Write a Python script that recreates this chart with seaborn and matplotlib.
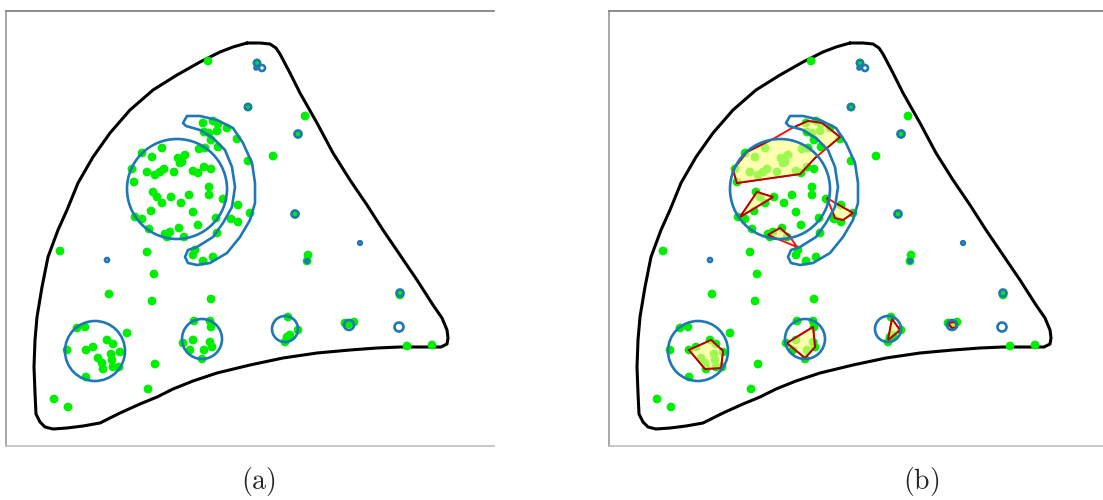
import numpy as np
import matplotlib
matplotlib.use("Agg")
import matplotlib.pyplot as plt
from matplotlib.patches import Circle, Polygon
from matplotlib.path import Path
import seaborn as sns
import pandas as pd

sns.set_style("white")
plt.rcParams["mathtext.fontset"] = "cm"

# ---- domain boundary (panel pixel coordinates, y downward) ----
outline_x = [247, 260, 270, 276, 280, 290, 300, 317, 333, 350, 367, 383, 400, 417, 433,
             442, 447, 448, 447, 441, 430, 400, 377, 350, 317, 283, 250, 217, 193, 173,
             157, 140, 120, 100, 83, 67, 53, 45, 40, 36, 35, 34, 35, 37, 42, 48, 58, 67,
             78, 93, 110, 130, 153, 177, 200, 220, 233, 247]
outline_y = [43, 43, 44, 48, 54, 73, 93, 123, 153, 180, 205, 230, 255, 280, 305,
             318, 330, 338, 344, 347, 347, 347, 348, 350, 353, 358, 365, 373, 381, 389,
             397, 404, 413, 423, 426, 428, 429, 427, 422, 414, 393, 367, 340, 317, 287,
             257, 230, 210, 183, 157, 133, 110, 90, 75, 62, 52, 47, 43]

# ---- crescent region ----
crescent_x = [187, 200, 217, 233, 243, 252, 255, 255, 250, 240, 227, 210, 197, 188, 185,
              188, 197, 213, 223, 232, 235, 232, 225, 213, 200, 186, 183, 187]
crescent_y = [116, 116, 120, 128, 143, 163, 183, 203, 220, 237, 253, 263, 265, 263, 257,
              250, 247, 237, 223, 207, 187, 167, 150, 138, 130, 126, 123, 116]

# ---- circular regions: centre x, centre y, radius ----
circle_x = [177, 95, 202, 285, 349, 399, 257, 256, 262, 248, 298, 295, 360, 307, 107, 400]
circle_y = [189, 351, 339, 329, 325, 327, 63, 68, 68, 107, 134, 214, 243, 261, 260, 293]
circle_r = [50, 30, 20, 13, 5, 4.5, 3, 1.5, 3, 3, 3.5, 3.5, 1.8, 1.8, 2, 3.5]

# ---- sample points ----
pts_x = [208, 257, 248, 305, 298, 273, 248, 295, 308, 307, 400, 349, 345, 354, 407, 432,
         203, 213, 218, 227, 204, 209, 217, 237, 211, 218, 199, 205,
         223, 238, 250, 238, 231, 216, 217, 195, 193, 203, 213,
         142, 152, 162, 178, 182, 185, 180, 132, 147, 155, 160, 164, 174, 193, 198, 204,
         211, 134, 153, 157, 162, 171, 181, 189, 209, 209, 151, 193, 135, 142, 149, 165,
         170, 179, 184, 198, 167,
         60, 147, 154, 109, 152, 211, 127, 155, 148, 54, 68,
         77, 85, 67, 86, 93, 107, 113, 120, 111, 98, 102, 112, 103, 113, 119, 86,
         194, 210, 211, 183, 193, 190, 204, 210, 212, 202,
         288, 298, 290, 287, 285]
pts_y = [61, 63, 107, 116, 134, 156, 161, 214, 255, 261, 295, 324, 323, 322, 346, 345,
         123, 121, 124, 128, 132, 133, 131, 139, 140, 147, 149, 148,
         199, 205, 213, 222, 219, 218, 233, 250, 255, 261, 257,
         153, 157, 148, 158, 162, 155, 163, 169, 172, 175, 172, 169, 172, 171, 173, 167,
         169, 182, 192, 197, 203, 197, 203, 195, 187, 195, 211, 212, 217, 219, 229, 234,
         232, 228, 237, 225, 237,
         251, 252, 274, 294, 301, 299, 333, 364, 389, 399, 407,
         328, 327, 350, 350, 347, 340, 344, 352, 354, 358, 363, 360, 369, 367, 367, 377,
         321, 321, 327, 343, 340, 350, 350, 342, 347, 359,
         317, 330, 335, 337, 342]

# ---- hull polygons for panel (b) ----
hulls = [
    ([134, 130, 144, 170, 189, 205, 219, 237, 212, 197],
     [183, 170, 152, 139, 128, 121, 123, 137, 158, 174]),
    ([137, 154, 170], [217, 192, 197]),
    ([165, 177, 187, 194], [235, 228, 237, 247]),
    ([224, 234, 250, 240, 232], [198, 204, 213, 220, 218]),
    ([86, 108, 120, 118, 102], [350, 340, 351, 368, 369]),
    ([184, 210, 212, 202], [343, 327, 347, 358]),
    ([285, 289, 297], [340, 319, 330]),
    ([345, 352, 354, 349], [323, 322, 327, 328]),
]

W, H = 1103, 500
fig = plt.figure(figsize=(W / 100, H / 100), dpi=100)

BLUE = "#1f77b4"
GREEN = "#00ee00"

df = pd.DataFrame({"x": pts_x, "y": pts_y})


def region_path():
    paths = [Path(np.column_stack([crescent_x, crescent_y]), closed=True)]
    for cx, cy, r in zip(circle_x[:5], circle_y[:5], circle_r[:5]):
        paths.append(Path.circle((cx, cy), r))
    return Path.make_compound_path(*paths)


def draw_panel(ax, width, with_hulls):
    ax.set_xlim(6, 6 + width)
    ax.set_ylim(446, 11)
    ax.set_xticks([])
    ax.set_yticks([])
    ax.spines["right"].set_visible(False)
    ax.spines["top"].set_color("#7a7a7a")
    ax.spines["left"].set_color("#9a9a9a")
    ax.spines["bottom"].set_color("#bdbdbd")
    for s in ("top", "left", "bottom"):
        ax.spines[s].set_linewidth(1.2)

    ax.plot(outline_x, outline_y, color="black", lw=2.2, zorder=2,
            solid_joinstyle="round")
    sns.scatterplot(data=df, x="x", y="y", ax=ax, color=GREEN, s=40,
                    edgecolor="none", linewidth=0, zorder=3, legend=False)

    if with_hulls:
        clip = region_path()
        for hx, hy in hulls:
            xy = np.column_stack([hx, hy])
            # full hull outline
            ax.add_patch(Polygon(xy, closed=True, fill=False, edgecolor="#ff1010",
                                 lw=1.4, zorder=3.5))
            # part of the hull lying inside the regions
            fillp = Polygon(xy, closed=True, facecolor=(1.0, 1.0, 0.5, 0.62),
                            edgecolor="#b00000", lw=1.3, zorder=4)
            ax.add_patch(fillp)
            fillp.set_clip_path(clip, ax.transData)

    ax.add_patch(Polygon(np.column_stack([crescent_x, crescent_y]), closed=True,
                         fill=False, edgecolor=BLUE, lw=1.9, zorder=5,
                         joinstyle="round"))
    for cx, cy, r in zip(circle_x, circle_y, circle_r):
        ax.add_patch(Circle((cx, cy), r, fill=False, edgecolor=BLUE,
                            lw=1.9, zorder=5))
    ax.set_xlabel("")
    ax.set_ylabel("")


ax_a = fig.add_axes([6 / W, 54 / H, 488 / W, 435 / H])
draw_panel(ax_a, 488, False)
ax_b = fig.add_axes([609 / W, 54 / H, 494 / W, 435 / H])
draw_panel(ax_b, 494, True)

fig.text(258 / W, 1 - 482 / H, r"$\mathrm{(a)}$", ha="center", va="center", fontsize=20)
fig.text(921 / W, 1 - 482 / H, r"$\mathrm{(b)}$", ha="center", va="center", fontsize=20)

fig.savefig("out.png", dpi=100)
